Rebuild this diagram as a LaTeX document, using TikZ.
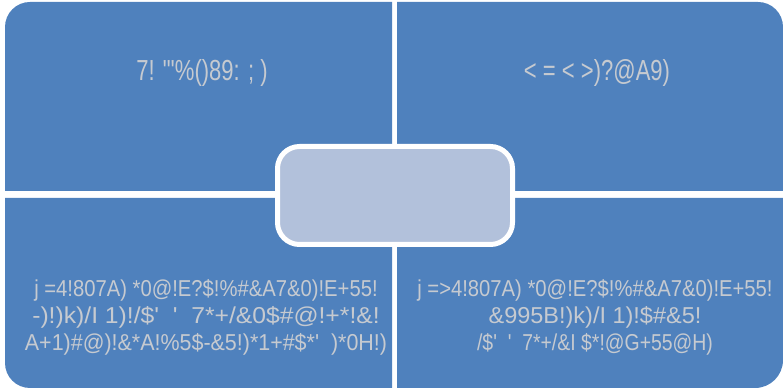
\documentclass[tikz,border=0pt]{standalone}
\usepackage{fontspec}
\usepackage{graphicx}
\newfontfamily\topfont{Liberation Sans}[FakeStretch=0.76]
\newfontfamily\botfont{Liberation Sans}[FakeStretch=0.88]
\newcommand\linefit[2]{\scalebox{#1}[1]{#2}}
\definecolor{quad}{RGB}{79,129,189}
\definecolor{centerfill}{RGB}{178,193,219}
\definecolor{txt}{RGB}{198,202,208}
\begin{document}
\begin{tikzpicture}[x=1pt,y=1pt,
  quadfill/.style={fill=quad},
  toptext/.style={text=txt,font=\topfont\fontsize{29}{32}\selectfont,inner sep=0pt,anchor=center},
  bottext/.style={text=txt,font=\botfont\fontsize{23}{27}\selectfont,inner sep=0pt,align=center,anchor=center},
  centerbox/.style={draw=white,line width=5pt,fill=centerfill,rounded corners=22pt,minimum width=235pt,minimum height=98pt,inner sep=0pt}]
\useasboundingbox (0,0) rectangle (783,390);
% quadrants
\fill[quadfill] (392,199) -- (5,199) -- (5,363) arc[start angle=180,end angle=90,radius=25] -- (392,388) -- cycle;
\fill[quadfill] (397,199) -- (397,388) -- (758,388) arc[start angle=90,end angle=0,radius=25] -- (783,199) -- cycle;
\fill[quadfill] (392,192) -- (5,192) -- (5,27) arc[start angle=180,end angle=270,radius=25] -- (392,2) -- cycle;
\fill[quadfill] (397,192) -- (783,192) -- (783,30) arc[start angle=0,end angle=-90,radius=28] -- (397,2) -- cycle;
% texts
\node[toptext] (tl) at (202,317) {7! "'\%()89: ; )};
\node[toptext] (tr) at (597,317) {< = < >)?@A9)};
\node[bottext] (bl) at (206,73) {j =4!807A) *0@!E?\$!\%\#\&A7\&0)!E+55!\\\linefit{1.22}{-)!)k)/I 1)!/\$'\ \ '\ \ 7*+/\&0\$\#@!+*!\&!}\\\linefit{1.06}{A+1)\#@)!\&*A!\%5\$-\&5!)*1+\#\$*'\ \ )*0H!)}};
\node[bottext] (br) at (595,73) {j =>4!807A) *0@!E?\$!\%\#\&A7\&0)!E+55!\\\linefit{1.16}{\&995B!)k)/I 1)!\$\#\&5!}\\\linefit{0.96}{/\$'\ \ '\ \ 7*+/\&I \$*!@G+55@H)}};
% center
\node[centerbox] (center) at (395,194.5) {};
\end{tikzpicture}
\end{document}
